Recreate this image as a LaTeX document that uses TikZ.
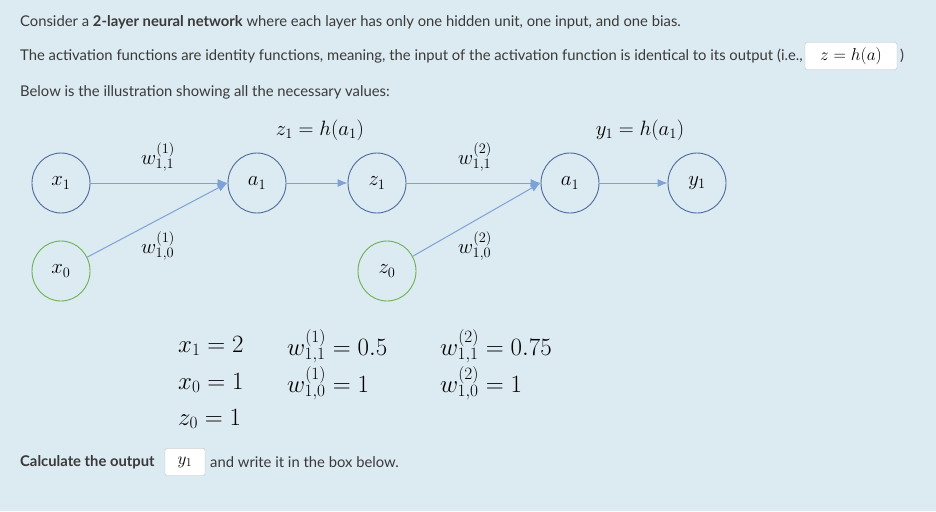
\documentclass[tikz,border=0pt]{standalone}
\usepackage{fontspec}
\setmainfont{Lato}
\usetikzlibrary{shapes.geometric,arrows.meta}
\definecolor{bg}{HTML}{DCEAF1}
\definecolor{nb}{HTML}{4F6A9C}
\definecolor{ng}{HTML}{6DB153}
\definecolor{ar}{HTML}{7FA2D6}
\definecolor{tx}{HTML}{3A3A3A}
\tikzset{
 neu/.style={ellipse,draw=nb,line width=0.9pt,minimum width=58pt,minimum height=60pt,inner sep=0pt,font=\fontsize{22}{24}\selectfont},
 bias/.style={neu,draw=ng},
 con/.style={draw=ar,line width=1pt,-{Latex[length=10pt,width=8pt]}},
 para/.style={anchor=west,text=tx,font=\fontsize{14.8}{17}\selectfont,inner sep=0pt},
 lab/.style={font=\fontsize{22}{24}\selectfont,inner sep=0pt},
 val/.style={font=\fontsize{23}{25}\selectfont,inner sep=0pt,anchor=west},
 box/.style={draw=gray!50,fill=white,rounded corners=2pt,inner sep=3pt,font=\fontsize{17}{19}\selectfont}
}
\begin{document}
\begin{tikzpicture}[x=1pt,y=-1pt]
\fill[bg] (0,0) rectangle (936,511);
\useasboundingbox (0,0) rectangle (936,511);
\node[para] (t1) at (20,22) {Consider a \textbf{2-layer neural network} where each layer has only one hidden unit, one input, and one bias.};
\node[para] (t2) at (20,56) {The activation functions are identity functions, meaning, the input of the activation function is identical to its output (i.e.,};
\node[box,minimum width=92pt,minimum height=27pt] (hb) at (851,56) {$z=h(a)$};
\node[para,anchor=west] (t2b) at (900,56) {)};
\node[para] (t3) at (20,92) {Below is the illustration showing all the necessary values:};
\node[neu] (x1) at (61,183) {$x_1$};
\node[bias] (x0) at (61,271) {$x_0$};
\node[neu] (a1) at (257,183) {$a_1$};
\node[neu] (z1) at (377,183) {$z_1$};
\node[bias] (z0) at (387,271) {$z_0$};
\node[neu] (a2) at (570,183) {$a_1$};
\node[neu] (y1) at (697,183) {$y_1$};
\draw[con] (x1) -- (a1.west);
\draw[con] (x0) -- (a1.west);
\draw[con] (a1) -- (z1);
\draw[con] (z1) -- (a2.west);
\draw[con] (z0) -- (a2.west);
\draw[con] (a2) -- (y1);
\node[lab] (lz) at (320,130) {$z_1=h(a_1)$};
\node[lab] (ly) at (640,130) {$y_1=h(a_1)$};
\node[lab] (w1) at (158,157) {$w^{(1)}_{1,1}$};
\node[lab] (w2) at (158,246) {$w^{(1)}_{1,0}$};
\node[lab] (w3) at (475,157) {$w^{(2)}_{1,1}$};
\node[lab] (w4) at (475,246) {$w^{(2)}_{1,0}$};
\node[val] (v1) at (178,346) {$x_1=2$};
\node[val] (v2) at (178,383) {$x_0=1$};
\node[val] (v3) at (178,419) {$z_0=1$};
\node[val] (v4) at (287,346) {$w^{(1)}_{1,1}=0.5$};
\node[val] (v5) at (287,383) {$w^{(1)}_{1,0}=1$};
\node[val] (v6) at (440,346) {$w^{(2)}_{1,1}=0.75$};
\node[val] (v7) at (440,383) {$w^{(2)}_{1,0}=1$};
\node[para] (c1) at (20,462) {\textbf{Calculate the output}};
\node[box,minimum width=40pt,minimum height=27pt] (yb) at (185,462) {$y_1$};
\node[para] (c2) at (210,462) {and write it in the box below.};
\end{tikzpicture}
\end{document}
